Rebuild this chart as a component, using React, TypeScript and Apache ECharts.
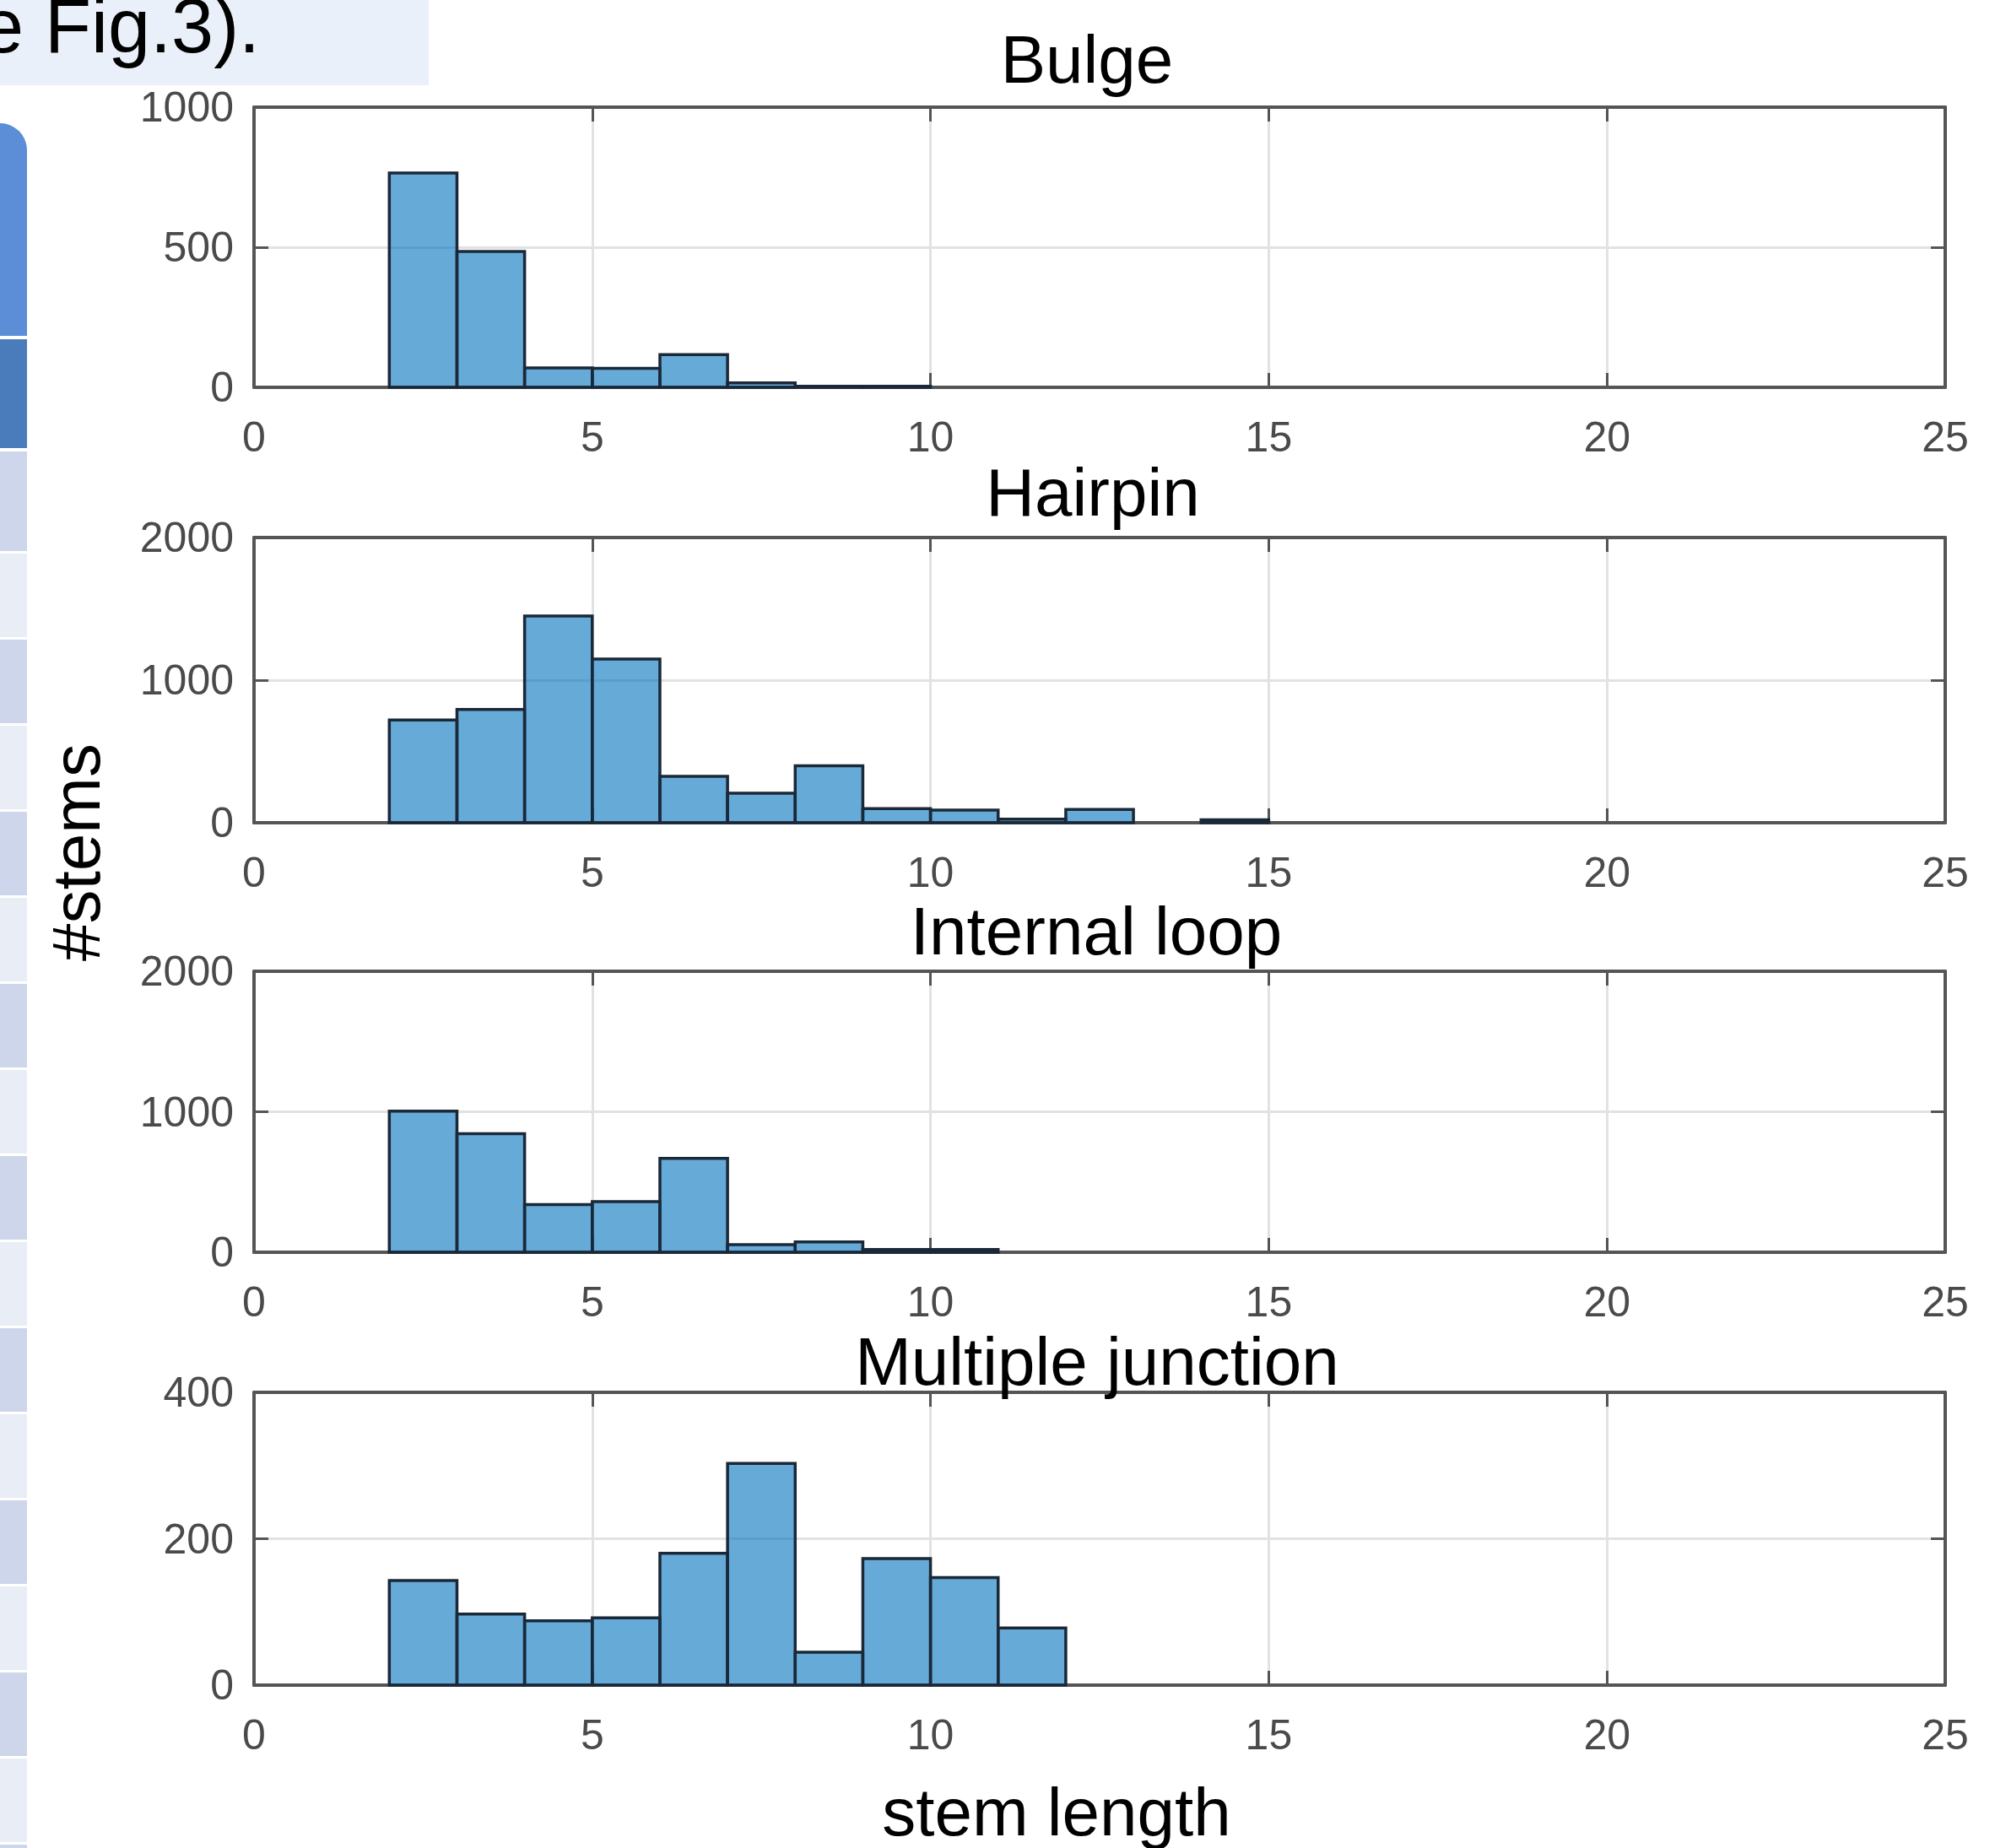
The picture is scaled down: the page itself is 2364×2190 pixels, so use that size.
import React, { useEffect, useRef } from "react";
import * as echarts from "echarts";

// ---- data ----
const panelTitles = ["Bulge", "Hairpin", "Internal loop", "Multiple junction"];
const binStart = 2;
const binWidth = 1;
const bulgeCounts = [765, 485, 69, 68, 117, 16, 4, 4];
const hairpinCounts = [720, 795, 1450, 1148, 325, 207, 400, 99, 89, 25, 93, 0, 20];
const internalLoopCounts = [1004, 844, 340, 360, 668, 54, 74, 20, 20];
const multipleJunctionCounts = [143, 97, 88, 92, 180, 303, 45, 173, 147, 78];
const yMaxima = [1000, 2000, 2000, 400];
const xMin = 0;
const xMax = 25;
const xInterval = 5;
const xAxisLabel = "stem length";
const yAxisLabel = "#stems";
const captionText = "e Fig.3).";

const allCounts = [bulgeCounts, hairpinCounts, internalLoopCounts, multipleJunctionCounts];

// ---- layout / style ----
const FONT = '"Liberation Sans", Arial, Helvetica, sans-serif';
const W = 2364;
const H = 2190;
const PLOT_LEFT = 301;
const PLOT_RIGHT = 2305;
const panels = [
  { top: 127, height: 332, titleX: 1288, titleY: 70 },
  { top: 637, height: 338, titleX: 1295, titleY: 583 },
  { top: 1151, height: 333, titleX: 1299, titleY: 1103 },
  { top: 1650, height: 347, titleX: 1300, titleY: 1613 },
];
const AXIS_COLOR = "#555555";
const LABEL_COLOR = "#4a4a4a";
const GRID_COLOR = "#e2e2e2";
const BAR_FILL = "rgba(0,114,189,0.6)";
const BAR_EDGE = "#1a2838";

function buildOption() {
  const grid: any[] = [];
  const xAxis: any[] = [];
  const yAxis: any[] = [];
  const series: any[] = [];
  const plain = (v: number) => String(v);

  panels.forEach((p, i) => {
    grid.push({ left: PLOT_LEFT, width: PLOT_RIGHT - PLOT_LEFT, top: p.top, height: p.height, show: false });
    const tickCommon = { show: true, inside: true, length: 17, lineStyle: { color: AXIS_COLOR, width: 3 } };
    const lineCommon = { show: true, onZero: false, lineStyle: { color: AXIS_COLOR, width: 4 } };
    xAxis.push({
      type: "value", gridIndex: i, position: "bottom", min: xMin, max: xMax, interval: xInterval,
      axisLine: lineCommon, axisTick: tickCommon,
      axisLabel: { show: true, fontSize: 50, lineHeight: 40, color: LABEL_COLOR, fontFamily: FONT, margin: 39, formatter: plain },
      splitLine: { show: true, lineStyle: { color: GRID_COLOR, width: 3 } },
    });
    xAxis.push({
      type: "value", gridIndex: i, position: "top", min: xMin, max: xMax, interval: xInterval,
      axisLine: lineCommon, axisTick: tickCommon, axisLabel: { show: false }, splitLine: { show: false },
    });
    const yMax = yMaxima[i];
    yAxis.push({
      type: "value", gridIndex: i, position: "left", min: 0, max: yMax, interval: yMax / 2,
      axisLine: lineCommon, axisTick: tickCommon,
      axisLabel: { show: true, fontSize: 50, color: LABEL_COLOR, fontFamily: FONT, margin: 24, formatter: plain },
      splitLine: { show: true, lineStyle: { color: GRID_COLOR, width: 3 } },
    });
    yAxis.push({
      type: "value", gridIndex: i, position: "right", min: 0, max: yMax, interval: yMax / 2,
      axisLine: lineCommon, axisTick: tickCommon, axisLabel: { show: false }, splitLine: { show: false },
    });

    const data = allCounts[i].map((c, k) => [binStart + k * binWidth, binStart + (k + 1) * binWidth, c]);
    series.push({
      type: "custom",
      xAxisIndex: 2 * i,
      yAxisIndex: 2 * i,
      encode: { x: [0, 1], y: 2 },
      data,
      z: 5,
      renderItem: (params: any, api: any) => {
        const x0 = api.value(0);
        const x1 = api.value(1);
        const v = api.value(2);
        if (!v) return null;
        const p0 = api.coord([x0, v]);
        const p1 = api.coord([x1, 0]);
        return {
          type: "rect",
          shape: { x: p0[0], y: p0[1], width: p1[0] - p0[0], height: p1[1] - p0[1] },
          style: { fill: BAR_FILL, stroke: BAR_EDGE, lineWidth: 3.5 },
        };
      },
    });
  });

  const graphic: any[] = [];
  // caption box top-left
  graphic.push({ type: "rect", shape: { x: 0, y: 0, width: 508, height: 101 }, style: { fill: "#eaf0f9" }, z: 1 });
  graphic.push({
    type: "text", x: -22, y: 31, z: 2,
    style: { text: captionText, fontSize: 90, lineHeight: 70, fontFamily: FONT, fill: "#000", align: "left", verticalAlign: "middle" },
  });
  // sidebar at left edge
  graphic.push({ type: "rect", shape: { x: 0, y: 146, width: 32, height: 252, r: [0, 32, 0, 0] }, style: { fill: "#5b8ed6" } });
  graphic.push({ type: "rect", shape: { x: 0, y: 402, width: 32, height: 129 }, style: { fill: "#4a7cbc" } });
  let rowY = 535;
  let k = 0;
  while (rowY < H) {
    const h = k === 0 ? 121 : 102;
    graphic.push({
      type: "rect",
      shape: { x: 0, y: rowY, width: 32, height: h - 3 },
      style: { fill: k % 2 === 0 ? "#cdd6ea" : "#e8edf6" },
    });
    rowY += h;
    k++;
  }
  // panel titles
  panels.forEach((p, i) => {
    graphic.push({
      type: "text", x: p.titleX, y: p.titleY, z: 10,
      style: { text: panelTitles[i], fontSize: 80, lineHeight: 58, fontFamily: FONT, fill: "#000", align: "center", verticalAlign: "middle" },
    });
  });
  // axis names
  graphic.push({
    type: "text", x: 90, y: 1010, rotation: Math.PI / 2, z: 10,
    style: { text: yAxisLabel, fontSize: 80, fontFamily: FONT, fill: "#000", align: "center", verticalAlign: "middle" },
  });
  graphic.push({
    type: "text", x: 1252, y: 2147, z: 10,
    style: { text: xAxisLabel, fontSize: 80, fontFamily: FONT, fill: "#000", align: "center", verticalAlign: "middle" },
  });

  return {
    animation: false,
    backgroundColor: "#ffffff",
    grid,
    xAxis,
    yAxis,
    series,
    graphic,
  };
}

export default function App() {
  const ref = useRef<HTMLDivElement>(null);
  useEffect(() => {
    if (!ref.current) return;
    const chart = echarts.init(ref.current, undefined, { renderer: "svg", width: W, height: H });
    chart.setOption(buildOption() as any);
    return () => chart.dispose();
  }, []);
  return (
    <div
      ref={ref}
      style={{ position: "fixed", left: 0, top: 0, width: W, height: H, background: "#fff" }}
    />
  );
}
